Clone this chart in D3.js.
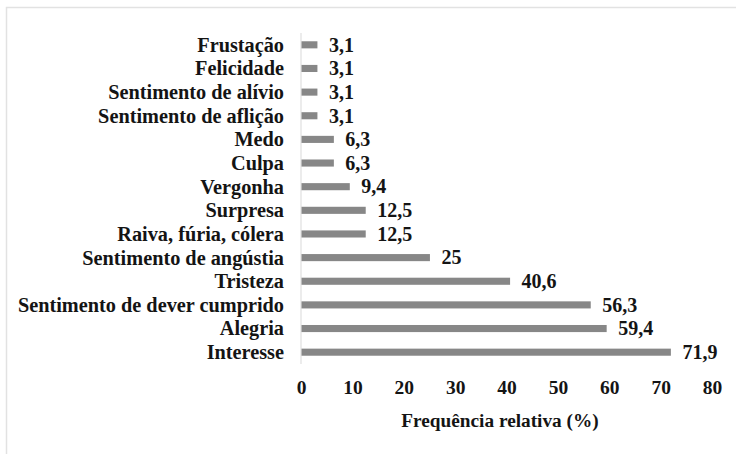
<!DOCTYPE html>
<html>
<head>
<meta charset="utf-8">
<script src="https://cdn.jsdelivr.net/npm/d3@7"></script>
<style>
  body { margin: 0; background: #fff; }
  svg text { font-family: 'Liberation Serif', 'Times New Roman', serif; font-weight: bold; fill: #141414; }
</style>
</head>
<body>
<svg id="chart" width="736" height="454"></svg>
<script>
// emotions, top to bottom as shown
var categories = [
  'Frustação', 'Felicidade', 'Sentimento de alívio', 'Sentimento de aflição',
  'Medo', 'Culpa', 'Vergonha', 'Surpresa', 'Raiva, fúria, cólera',
  'Sentimento de angústia', 'Tristeza', 'Sentimento de dever cumprido',
  'Alegria', 'Interesse'
]
var values = [3.1, 3.1, 3.1, 3.1, 6.3, 6.3, 9.4, 12.5, 12.5, 25, 40.6, 56.3, 59.4, 71.9]
var xTicks = [0, 10, 20, 30, 40, 50, 60, 70, 80]
var xTitle = 'Frequência relativa (%)'

var svg = d3.select('#chart')
var fmt = (v) => String(v).replace('.', ',')

// outer chart frame (runs off the right and bottom)
svg.append('rect')
  .attr('x', 6.5).attr('y', 7.5)
  .attr('width', 760).attr('height', 480)
  .attr('fill', 'none')
  .attr('stroke', '#e2e2e2')
  .attr('stroke-width', 1.5)

var x = d3.scaleLinear().domain([0, 80]).range([301, 712])
var y = d3.scaleBand().domain(categories).range([33, 364])
  .paddingInner(0.7).paddingOuter(0.35)

// category axis line
svg.append('line')
  .attr('x1', x(0)).attr('x2', x(0))
  .attr('y1', 33).attr('y2', 364)
  .attr('stroke', '#d9d9d9')
  .attr('stroke-width', 1)

svg.append('g')
  .selectAll('rect')
  .data(values)
  .enter().append('rect')
    .attr('x', x(0) + 0.5)
    .attr('y', (d, i) => y(categories[i]))
    .attr('width', (d) => x(d) - x(0))
    .attr('height', y.bandwidth())
    .attr('fill', '#878787')

// value labels
svg.append('g')
  .selectAll('text')
  .data(values)
  .enter().append('text')
    .attr('x', (d) => x(d) + 12)
    .attr('y', (d, i) => y(categories[i]) + y.bandwidth() / 2)
    .attr('dy', '0.34em')
    .style('font-size', '20px')
    .text(fmt)

// category labels
svg.append('g')
  .selectAll('text')
  .data(categories)
  .enter().append('text')
    .attr('x', 284)
    .attr('y', (d) => y(d) + y.bandwidth() / 2)
    .attr('dy', '0.34em')
    .attr('text-anchor', 'end')
    .style('font-size', '20.3px')
    .text((d) => d)

// value axis, labels only
var xAxis = svg.append('g')
  .attr('transform', 'translate(0,380)')
  .call(d3.axisBottom(x).tickValues(xTicks).tickSize(0).tickPadding(0).tickFormat(d3.format('d')))

xAxis.select('.domain').remove()
xAxis.selectAll('text')
  .attr('fill', '#141414')
  .style('font-family', "'Liberation Serif', 'Times New Roman', serif")
  .style('font-weight', 'bold')
  .style('font-size', '19.5px')

svg.append('text')
  .attr('x', 500)
  .attr('y', 427)
  .attr('text-anchor', 'middle')
  .style('font-size', '19.3px')
  .text(xTitle)
</script>
</body>
</html>
